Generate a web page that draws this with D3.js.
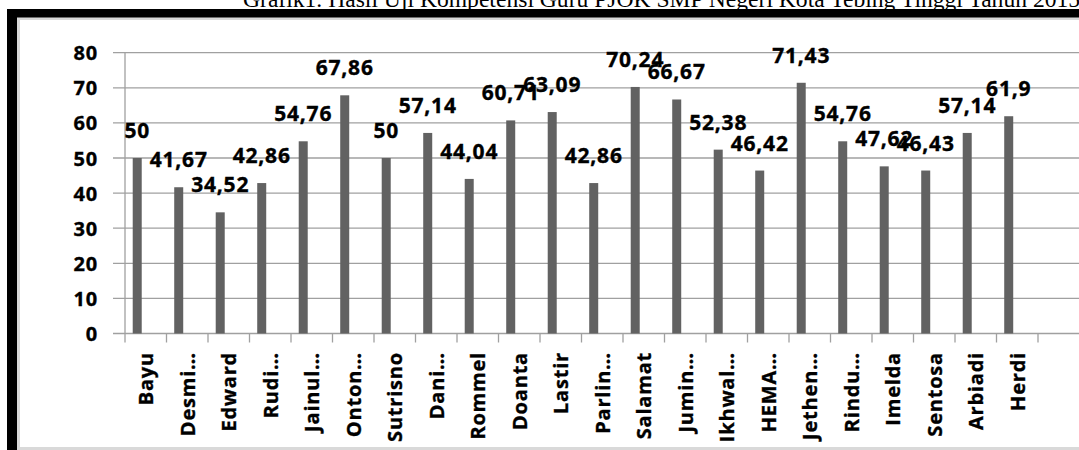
<!DOCTYPE html>
<html>
<head>
<meta charset="utf-8">
<script src="https://cdn.jsdelivr.net/npm/d3@7/dist/d3.min.js"></script>
<style>
  html, body { margin: 0; padding: 0; background: #fff; overflow: hidden; }
  svg { display: block; }
</style>
</head>
<body>
<svg id="chart" width="1079" height="450"></svg>
<script>
const titleText = "Grafik1. Hasil Uji Kompetensi Guru PJOK SMP Negeri Kota Tebing Tinggi Tahun 2015";
const categories = ["Bayu", "Desmi…", "Edward", "Rudi…", "Jainul…", "Onton…", "Sutrisno", "Dani…",
  "Rommel", "Doanta", "Lastir", "Parlin…", "Salamat", "Jumin…", "Ikhwal…", "HEMA…",
  "Jethen…", "Rindu…", "Imelda", "Sentosa", "Arbiadi", "Herdi"];
const values = [50, 41.67, 34.52, 42.86, 54.76, 67.86, 50, 57.14, 44.04, 60.71, 63.09, 42.86,
  70.24, 66.67, 52.38, 46.42, 71.43, 54.76, 47.62, 46.43, 57.14, 61.9];
const valueLabels = ["50", "41,67", "34,52", "42,86", "54,76", "67,86", "50", "57,14", "44,04", "60,71",
  "63,09", "42,86", "70,24", "66,67", "52,38", "46,42", "71,43", "54,76", "47,62", "46,43", "57,14", "61,9"];
const yTicks = [0, 10, 20, 30, 40, 50, 60, 70, 80];

const W = 1079, H = 450;
const svg = d3.select("#chart");

// title (partly hidden by frame)
svg.append("text")
  .attr("x", 243).attr("y", 7)
  .attr("font-family", "'Liberation Serif', 'Times New Roman', serif")
  .attr("font-size", 23.6)
  .attr("fill", "#000")
  .text(titleText);

// frame
svg.append("rect").attr("x", 7).attr("y", 9).attr("width", W - 7).attr("height", H - 9).attr("fill", "#000");
svg.append("rect").attr("x", 17).attr("y", 17.5).attr("width", W - 17).attr("height", 432.5).attr("fill", "#d9d9d9");
svg.append("rect").attr("x", 20).attr("y", 20).attr("width", W - 20).attr("height", 427).attr("fill", "#fff");

const x0 = 125, bw = 41.5;
const x = d3.scaleBand().domain(categories).range([x0, x0 + bw * categories.length]).paddingInner(0).paddingOuter(0);
const y = d3.scaleLinear().domain([0, 80]).range([333.5, 52.7]);

const g = svg.append("g");

// gridlines
g.selectAll("line.grid").data(yTicks).enter().append("line")
  .attr("x1", 113).attr("x2", W)
  .attr("y1", d => y(d)).attr("y2", d => y(d))
  .attr("stroke", "#a0a0a0").attr("stroke-width", 1.3);

// y axis line
g.append("line").attr("x1", x0).attr("x2", x0).attr("y1", y(80)).attr("y2", y(0))
  .attr("stroke", "#a0a0a0").attr("stroke-width", 1.3);

const boldText = sel => sel
  .attr("font-family", "'Open Sans', sans-serif").attr("font-weight", 700)
  .attr("fill", "#000").attr("stroke", "#000").attr("stroke-width", 0.35);

// y tick labels
g.selectAll("text.ytick").data(yTicks).enter().append("text")
  .attr("x", 98).attr("y", d => y(d))
  .attr("text-anchor", "end").attr("dominant-baseline", "central")
  .call(boldText)
  .attr("font-size", 20).attr("letter-spacing", 0.8)
  .text(d => d);

// x ticks at band boundaries
const bounds = categories.map(c => x(c)).concat([x0 + bw * categories.length]);
g.selectAll("line.xtick").data(bounds).enter().append("line")
  .attr("x1", d => d).attr("x2", d => d).attr("y1", y(0)).attr("y2", y(0) + 9)
  .attr("stroke", "#a0a0a0").attr("stroke-width", 1.3);

// bars
g.selectAll("rect.bar").data(values).enter().append("rect")
  .attr("x", (d, i) => x(categories[i]) + 0.186 * x.bandwidth())
  .attr("width", 0.217 * x.bandwidth())
  .attr("y", d => y(d))
  .attr("height", d => y(0) - y(d))
  .attr("fill", "#626262");

// data labels
g.selectAll("text.vlab").data(values).enter().append("text")
  .attr("x", (d, i) => x(categories[i]) + 0.2945 * x.bandwidth())
  .attr("y", d => y(d) - 20)
  .attr("text-anchor", "middle")
  .call(boldText)
  .attr("font-size", 21).attr("letter-spacing", 0.8)
  .text((d, i) => valueLabels[i]);

// category labels
g.selectAll("text.cat").data(categories).enter().append("text")
  .attr("transform", d => `translate(${x(d) + x.bandwidth() / 2},352) rotate(-90)`)
  .attr("text-anchor", "end").attr("dominant-baseline", "central")
  .call(boldText)
  .attr("font-size", 20).attr("letter-spacing", 0.8)
  .text(d => d);
</script>
</body>
</html>
